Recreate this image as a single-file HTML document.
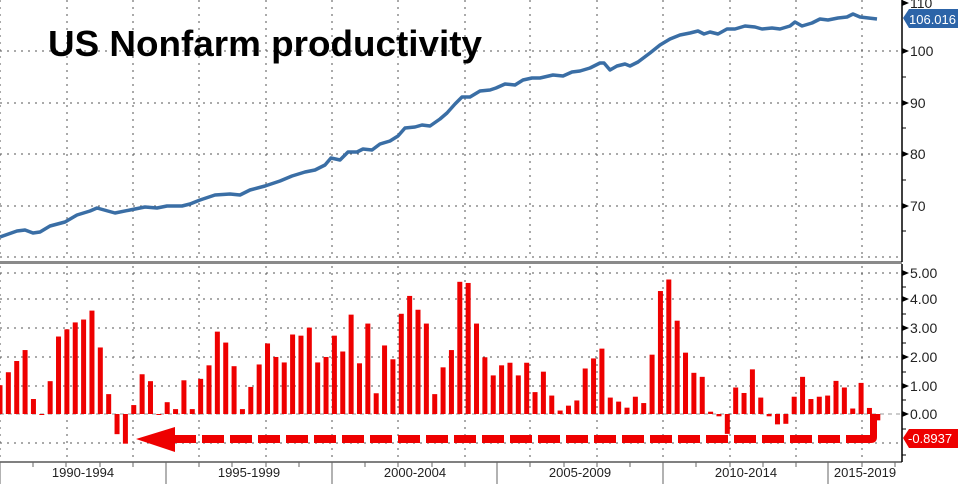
<!DOCTYPE html>
<html><head><meta charset="utf-8"><style>
html,body{margin:0;padding:0;background:#fff;width:958px;height:484px;overflow:hidden}
svg{display:block}
text{font-family:"Liberation Sans",sans-serif}
</style></head><body>
<svg id="s" width="958" height="484" viewBox="0 0 958 484" xmlns="http://www.w3.org/2000/svg">
<g id="grid" stroke="#555" stroke-width="1" stroke-dasharray="2,5"></g>
<text x="48" y="56" font-size="36" font-weight="bold" fill="#000" textLength="434" lengthAdjust="spacingAndGlyphs">US Nonfarm productivity</text>
<polyline fill="none" stroke="#3a6ea5" stroke-width="3.5" stroke-linejoin="round" points="0,237 17,231 25,230 33,233 40,232 50,226 65,222 77,215 90,211 97,208 115,213 130,210 145,207 157,208 167,206 182,206 190,204 200,200 215,195 230,194 240,195 250,190 265,186 280,181 292,176 305,172 315,170 325,165 331,158 340,160 348,152 357,152 363,149 372,150 380,144 390,141 398,136 405,128 415,127 422,125 430,126 440,119 447,113 455,104 462,97 470,97 480,91 490,90 496,88 505,84 515,85 523,80 532,78 540,78 553,75 563,76 572,72 580,71 590,68 600,63 604,63 610,70 617,66 625,64 630,66 638,62 650,53 660,45 670,39 680,35 690,33 698,31 704,34 710,32 718,34 727,29 735,29 745,26 755,27 762,29 772,28 780,29 790,26 795,22 802,26 812,23 820,19 828,20 838,18 847,17 853,14 860,17 877,19"/>
<rect x="0" y="261" width="902" height="3" fill="#8a8a8a"/>
<line x1="0" y1="414" x2="902" y2="414" stroke="#999" stroke-width="1" stroke-dasharray="4,4"/>
<g id="bars" fill="#ee0000"></g>
<g fill="#ee0000">
<polygon points="136,439 175,427 175,452"/>
</g>
<g id="dash" fill="#ee0000"></g>
<path d="M877,414 L877,437 Q877,443 871,443 L866,443 L866,435 L870,435 L870,414 Z" fill="#ee0000"/>
<line x1="902" y1="0" x2="902" y2="262" stroke="#000" stroke-width="1.5"/>
<line x1="902" y1="264" x2="902" y2="462" stroke="#000" stroke-width="1.5"/>
<line x1="0" y1="462" x2="902" y2="462" stroke="#000" stroke-width="1"/>
<g id="ax" font-size="14" fill="#222"></g>
<path d="M903,18 L909,9 L958,9 L958,28 L909,28 Z" fill="#2c64a8"/>
<text x="909" y="24" font-size="13" fill="#fff">106.016</text>
<path d="M903,438 L909,429 L958,429 L958,448 L909,448 Z" fill="#ee0000"/>
<text x="908" y="443" font-size="13" fill="#fff">-0.8937</text>
<g font-size="13" fill="#222" text-anchor="middle">
<text x="83" y="477">1990-1994</text>
<text x="249" y="477">1995-1999</text>
<text x="415" y="477">2000-2004</text>
<text x="580" y="477">2005-2009</text>
<text x="746" y="477">2010-2014</text>
<text x="865" y="477">2015-2019</text>
</g>
</svg>
<script>
var NS="http://www.w3.org/2000/svg";
function el(p,t,a){var e=document.createElementNS(NS,t);for(var k in a)e.setAttribute(k,a[k]);document.getElementById(p).appendChild(e);return e;}
var vx=[0,67,133,199,266,332,398,465,530,597,663,730,796,862];
vx.forEach(function(x){el("grid","line",{x1:x,y1:0,x2:x,y2:258});el("grid","line",{x1:x,y1:266,x2:x,y2:460});});
[51,103,154,206,257].forEach(function(y){el("grid","line",{x1:0,y1:y,x2:900,y2:y});});
[273,299,328,357,386,443].forEach(function(y){el("grid","line",{x1:0,y1:y,x2:900,y2:y});});
var v=[1.0,1.45,1.84,2.22,0.52,-0.03,1.14,2.69,2.94,3.18,3.28,3.59,2.31,0.69,-0.70,-1.03,0.31,1.38,1.14,-0.03,0.41,0.17,1.17,0.17,1.22,1.69,2.86,2.48,1.66,0.17,0.94,1.72,2.45,1.98,1.79,2.76,2.72,3.0,1.79,1.98,2.72,2.17,3.45,1.76,3.14,0.72,2.38,1.9,3.48,4.1,3.62,3.14,0.69,1.62,2.22,4.59,4.55,3.14,1.97,1.34,1.69,1.78,1.34,1.78,0.76,1.47,0.64,0.12,0.29,0.47,1.58,1.93,2.27,0.57,0.43,0.22,0.6,0.38,2.06,4.27,4.67,3.24,2.13,1.43,1.29,0.08,-0.08,-0.69,0.92,0.73,1.55,0.57,-0.08,-0.36,-0.34,0.6,1.29,0.52,0.6,0.64,1.15,0.92,0.19,1.08,0.21,-0.22];
var z=414,u=28.8;
v.forEach(function(d,i){var cx=i*8.36,h=Math.max(Math.abs(d)*u,1);el("bars","rect",{x:cx-2.5,y:d>=0?z-h:z,width:5,height:h});});
for(var x=174;x<866;x+=28){el("dash","rect",{x:x,y:435,width:Math.min(22,866-x),height:8});}
var ly=[[3,"110"],[51,"100"],[103,"90"],[154,"80"],[206,"70"],[273,"5.00"],[299,"4.00"],[328,"3.00"],[357,"2.00"],[386,"1.00"],[414,"0.00"]];
ly.forEach(function(p){el("ax","path",{d:"M902,"+(p[0]-3)+" L909,"+p[0]+" L902,"+(p[0]+3)+"Z",fill:"#000"});var t=el("ax","text",{x:910,y:p[0]+5});t.textContent=p[1];});
[77,128,180,231,287,314,343,372,400,429,455].forEach(function(y){el("ax","line",{x1:902,y1:y,x2:906,y2:y,stroke:"#000"});});
[0,166,332,497,663,828].forEach(function(x){el("ax","line",{x1:x,y1:462,x2:x,y2:484,stroke:"#666"});});
[33,66,100,133,199,232,266,299,365,398,432,465,530,564,597,630,696,730,763,796,862,895].forEach(function(x){el("ax","line",{x1:x,y1:462,x2:x,y2:467,stroke:"#666"});});
</script>
</body></html>
